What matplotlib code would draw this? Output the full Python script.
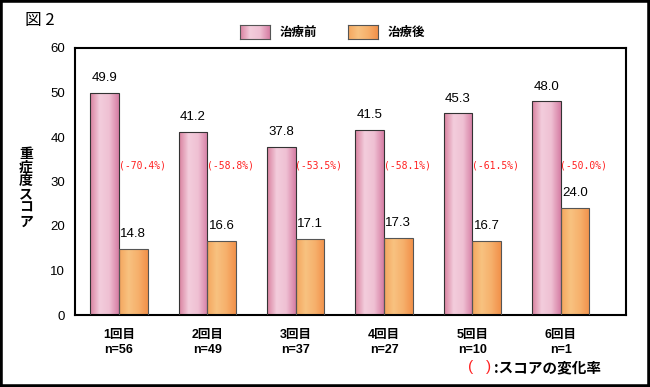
import matplotlib
matplotlib.use("Agg")
import matplotlib.pyplot as plt
import numpy as np
from matplotlib.colors import LinearSegmentedColormap
from matplotlib.patches import Rectangle

plt.rcParams['font.family'] = ['Liberation Sans', 'Noto Sans CJK JP', 'DejaVu Sans']

categories = ["1回目\nn=56", "2回目\nn=49", "3回目\nn=37", "4回目\nn=27", "5回目\nn=10", "6回目\nn=1"]
before = [49.9, 41.2, 37.8, 41.5, 45.3, 48.0]
after = [14.8, 16.6, 17.1, 17.3, 16.7, 24.0]
change = ["(-70.4%)", "(-58.8%)", "(-53.5%)", "(-58.1%)", "(-61.5%)", "(-50.0%)"]
yticks = [0, 10, 20, 30, 40, 50, 60]
series_names = ["治療前", "治療後"]

fig = plt.figure(figsize=(6.5, 3.87), dpi=100)
ax = fig.add_axes([75/650, 1-315/387, 551/650, 267/387])

x = np.arange(len(categories))
w = 0.323
pink_cmap = LinearSegmentedColormap.from_list("p", ["#d9809f", "#f3cddc", "#efc0d3", "#d67ea4"])
orange_cmap = LinearSegmentedColormap.from_list("o", ["#f4a65e", "#f8c280", "#f6b06c", "#f2914a"])

grad = np.linspace(0, 1, 64).reshape(1, -1)

def grad_bars(bars, cmap):
    for b in bars:
        x0, y0 = b.get_x(), b.get_y()
        bw, bh = b.get_width(), b.get_height()
        im = ax.imshow(grad, cmap=cmap, aspect='auto', extent=[x0, x0+bw, y0, y0+bh],
                       zorder=2, interpolation='bilinear')
        im.set_clip_path(b)

b1 = ax.bar(x - w/2, before, w, facecolor='none', edgecolor='#333333', linewidth=0.8, zorder=3)
b2 = ax.bar(x + w/2, after, w, facecolor='none', edgecolor='#555555', linewidth=0.8, zorder=3)
grad_bars(b1, pink_cmap)
grad_bars(b2, orange_cmap)

for i in range(len(x)):
    ax.text(x[i] - w/2, before[i] + 2.0, f"{before[i]:.1f}", ha='center', va='bottom', fontsize=9.5)
    ax.text(x[i] + w/2, after[i] + 2.0, f"{after[i]:.1f}", ha='center', va='bottom', fontsize=9.5)
    ax.text(x[i] - 0.005, 33.6, change[i], ha='left', va='center', fontsize=7, color='#ff2020',
            family=['DejaVu Sans Mono'])

ax.set_xlim(-0.498, 5.74)
ax.set_ylim(0, 60)
ax.set_yticks(yticks)
ax.set_yticklabels([str(t) for t in yticks], fontsize=9.5)
ax.set_xticks(x)
ax.set_xticklabels(categories, fontsize=9, fontweight='bold', linespacing=1.4)
ax.tick_params(length=0, pad=7)
ax.tick_params(axis='x', pad=10)
for s in ax.spines.values():
    s.set_linewidth(1.5)
    s.set_color('black')

# legend
lg_y = 1 - 32/387
for px, col, name in [(240, pink_cmap, series_names[0]), (348, orange_cmap, series_names[1])]:
    lax = fig.add_axes([px/650, 1-39/387, 30/650, 14/387])
    lax.imshow(grad, cmap=col, aspect='auto', interpolation='bilinear')
    lax.set_xticks([]); lax.set_yticks([])
    for s in lax.spines.values():
        s.set_linewidth(0.8); s.set_color('#555555')
    fig.text((px + 40)/650, lg_y, name, ha='left', va='center', fontsize=9, fontweight='bold',
             family=['Noto Sans CJK JP'])

fig.text(25/650, 1-20/387, "図 2", ha='left', va='center', fontsize=12, family=['Noto Sans CJK JP'])
fig.text(26/650, 1-188/387, "重\n症\n度\nス\nコ\nア", ha='center', va='center', fontsize=10,
         fontweight='bold', linespacing=0.95, family=['Noto Sans CJK JP'])

fig.text(471/650, 1-367/387, "(", ha='center', va='center', fontsize=11, color='#ff2020')
fig.text(489/650, 1-367/387, ")", ha='center', va='center', fontsize=11, color='#ff2020')
fig.text(494/650, 1-367/387, ":スコアの変化率", ha='left', va='center', fontsize=10.5, fontweight='bold',
         family=['Noto Sans CJK JP'])

fig.patches.append(Rectangle((0, 0), 1, 1, transform=fig.transFigure, fill=False,
                             edgecolor='black', linewidth=4))

fig.savefig("out.png", dpi=100)
